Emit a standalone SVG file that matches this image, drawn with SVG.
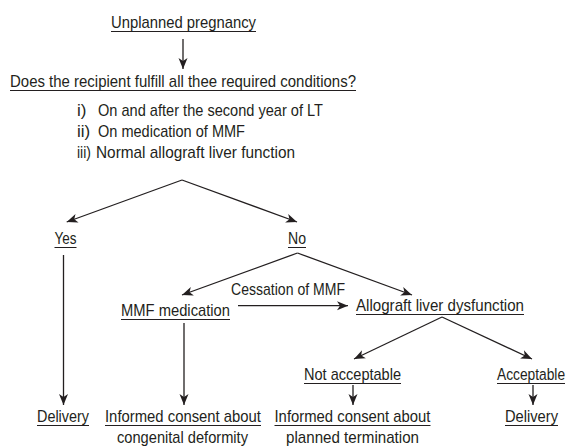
<svg xmlns="http://www.w3.org/2000/svg" width="572" height="446" viewBox="0 0 572 446">
<defs>
<style>
text{font-family:"Liberation Sans",Arial,sans-serif;font-size:17px;fill:#231f20}
.ul{stroke:#231f20;stroke-width:1}
.c{stroke:#231f20;stroke-width:1.3;fill:none}
.a{marker-end:url(#ah)}
</style>
<marker id="ah" viewBox="-12 -5 13 10" refX="0" refY="0" markerWidth="13" markerHeight="10" markerUnits="userSpaceOnUse" orient="auto">
<path d="M0,0 L-11,-4.5 L-8,0 L-11,4.5 Z" fill="#231f20"/>
</marker>
</defs>
<rect width="572" height="446" fill="#ffffff"/>
<g id="connectors">
<line class="c a" x1="183" y1="39" x2="183" y2="69"/>
<line class="c a" x1="182" y1="180" x2="66.7" y2="222"/>
<line class="c a" x1="182" y1="180" x2="297" y2="222"/>
<line class="c a" x1="63.5" y1="255" x2="63.5" y2="405"/>
<line class="c a" x1="297.5" y1="253" x2="182" y2="295"/>
<line class="c a" x1="297.5" y1="253" x2="412" y2="295"/>
<line class="c a" x1="184" y1="323" x2="184" y2="405"/>
<line class="c a" x1="238" y1="305.7" x2="348" y2="305.7"/>
<line class="c a" x1="442" y1="317" x2="354" y2="359"/>
<line class="c a" x1="442" y1="317" x2="532" y2="359"/>
<line class="c a" x1="353" y1="385" x2="353" y2="405"/>
<line class="c a" x1="533" y1="385" x2="533" y2="405"/>
</g>
<g id="n-unplanned">
<text x="111" y="28" textLength="145" lengthAdjust="spacingAndGlyphs">Unplanned pregnancy</text>
<line class="ul" x1="111" y1="31.5" x2="256" y2="31.5"/>
</g>
<g id="n-question">
<text x="10" y="87" textLength="346" lengthAdjust="spacingAndGlyphs">Does the recipient fulfill all thee required conditions?</text>
<line class="ul" x1="10" y1="90.5" x2="356" y2="90.5"/>
</g>
<g id="n-conditions">
<text x="77" y="116">i)</text>
<text x="98" y="116" textLength="225" lengthAdjust="spacingAndGlyphs">On and after the second year of LT</text>
<text x="77" y="137">ii)</text>
<text x="98" y="137" textLength="147" lengthAdjust="spacingAndGlyphs">On medication of MMF</text>
<text x="77" y="158" textLength="14" lengthAdjust="spacingAndGlyphs">iii)</text>
<text x="96" y="158" textLength="199" lengthAdjust="spacingAndGlyphs">Normal allograft liver function</text>
</g>
<g id="n-yes">
<text x="54.5" y="244" textLength="22" lengthAdjust="spacingAndGlyphs">Yes</text>
<line class="ul" x1="54.5" y1="247.5" x2="76.5" y2="247.5"/>
</g>
<g id="n-no">
<text x="288" y="244" textLength="18" lengthAdjust="spacingAndGlyphs">No</text>
<line class="ul" x1="288" y1="247.5" x2="306" y2="247.5"/>
</g>
<g id="l-cessation">
<text x="231" y="295" textLength="114" lengthAdjust="spacingAndGlyphs">Cessation of MMF</text>
</g>
<g id="n-mmf">
<text x="121" y="316" textLength="109" lengthAdjust="spacingAndGlyphs">MMF medication</text>
<line class="ul" x1="121" y1="319.5" x2="230" y2="319.5"/>
</g>
<g id="n-allograft">
<text x="356" y="311" textLength="168" lengthAdjust="spacingAndGlyphs">Allograft liver dysfunction</text>
<line class="ul" x1="356" y1="314.5" x2="524" y2="314.5"/>
</g>
<g id="n-notacceptable">
<text x="304" y="380" textLength="97" lengthAdjust="spacingAndGlyphs">Not acceptable</text>
<line class="ul" x1="304" y1="383.5" x2="401" y2="383.5"/>
</g>
<g id="n-acceptable">
<text transform="translate(497,380) scale(0.81,1)" x="0" y="0">Acceptable</text>
<line class="ul" x1="497" y1="383.5" x2="565" y2="383.5"/>
</g>
<g id="n-delivery1">
<text x="37" y="422" textLength="52" lengthAdjust="spacingAndGlyphs">Delivery</text>
<line class="ul" x1="37" y1="425.5" x2="89" y2="425.5"/>
</g>
<g id="n-consent-deformity">
<text x="105" y="422" textLength="156" lengthAdjust="spacingAndGlyphs">Informed consent about</text>
<line class="ul" x1="105" y1="425.5" x2="261" y2="425.5"/>
<text x="117" y="443" textLength="131" lengthAdjust="spacingAndGlyphs">congenital deformity</text>
</g>
<g id="n-consent-termination">
<text x="274.5" y="422" textLength="156" lengthAdjust="spacingAndGlyphs">Informed consent about</text>
<line class="ul" x1="274.5" y1="425.5" x2="430.5" y2="425.5"/>
<text x="286" y="443" textLength="133" lengthAdjust="spacingAndGlyphs">planned termination</text>
</g>
<g id="n-delivery2">
<text x="505" y="422" textLength="53" lengthAdjust="spacingAndGlyphs">Delivery</text>
<line class="ul" x1="505" y1="425.5" x2="558" y2="425.5"/>
</g>
</svg>
